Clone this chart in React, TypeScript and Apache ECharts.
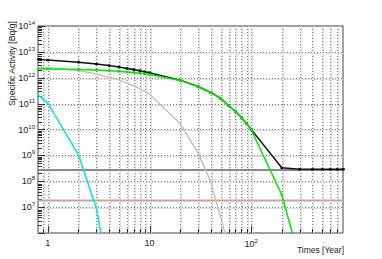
import React, { useEffect, useRef } from "react";
import * as echarts from "echarts";

const TIMES = [0.5, 1, 2, 3, 4, 5, 6, 7, 8, 9, 10, 20, 30, 40, 50, 60, 70, 80, 90, 100, 200, 300, 400, 500, 600, 700, 800, 900, 1000];

const TOTAL = [6.0e12, 4.8e12, 4.0e12, 3.4e12, 2.95e12, 2.6e12, 2.3e12, 2.07e12, 1.88e12, 1.71e12, 1.57e12, 8.1e11, 4.6e11, 2.7e11, 1.6e11, 8.5e10, 5.0e10, 2.9e10, 1.7e10, 1.01e10, 3.3e8, 2.9e8, 2.88e8, 2.88e8, 2.88e8, 2.88e8, 2.88e8, 2.88e8, 2.88e8];
const GREEN = [2.25e12, 2.2e12, 2.1e12, 1.99e12, 1.88e12, 1.78e12, 1.68e12, 1.59e12, 1.5e12, 1.42e12, 1.34e12, 7.9e11, 4.6e11, 2.7e11, 1.6e11, 8.5e10, 5.0e10, 2.9e10, 1.7e10, 9.8e9, 3.0e7, 9e4];
const BEIGE = [2.75e12, 2.45e12, 1.9e12, 1.4e12, 1.05e12, 8.3e11, 6.3e11, 4.8e11, 3.8e11, 2.9e11, 2.3e11, 1.7e10, 1.25e9, 9.5e7, 4e6, 3e5];
const CYAN = [1.0e12, 1.05e11, 1.05e9, 9e6, 2e4];
const FLAT_TIMES = [0.5, 1000];
const GRAY_CONST = [2.7e8, 2.7e8];
const BROWN_CONST = [1.8e7, 1.8e7];

const X_MIN = 0.8;
const X_MAX = 800;
const Y_MIN = 1e6;
const Y_MAX = 1e14;
const X_TICK_LABELS = [1, 10, 100];
const Y_TICK_LABELS = [1e7, 1e8, 1e9, 1e10, 1e11, 1e12, 1e13, 1e14];
const X_MINOR = [0.9, 1, 2, 3, 4, 5, 6, 7, 8, 9, 10, 20, 30, 40, 50, 60, 70, 80, 90, 100, 200, 300, 400, 500, 600, 700];
const Y_DECADES = [1e6, 1e7, 1e8, 1e9, 1e10, 1e11, 1e12, 1e13, 1e14];

const FONT = "'Liberation Sans', Arial, Helvetica, sans-serif";

function pairs(xs: number[], ys: number[]) {
  return ys.map((y, i) => [xs[i], y]);
}

function isTick(v: number, list: number[]) {
  return list.some((t) => Math.abs(Math.log10(v) - Math.log10(t)) < 1e-6);
}

export default function App() {
  const ref = useRef<HTMLDivElement>(null);
  useEffect(() => {
    if (!ref.current) return;
    const chart = echarts.init(ref.current, undefined, { renderer: "svg" });
    const rich = {
      b: { fontSize: 9, fontFamily: FONT, color: "#222" },
      s: { fontSize: 6, fontFamily: FONT, color: "#222", padding: [0, 0, 6, 0] },
    };
    const crisp = (v: number) => Math.round(v) + 0.5;
    const gridSeries: any = {
      type: "custom",
      silent: true,
      z: 1,
      clip: false,
      data: [[1, 1e10]],
      renderItem: (params: any, api: any) => {
        const children: any[] = [];
        const bl = api.coord([X_MIN, Y_MIN]);
        const tr = api.coord([X_MAX, Y_MAX]);
        const x0 = bl[0], y0 = bl[1], x1 = tr[0], y1 = tr[1];
        for (const t of X_MINOR) {
          const x = crisp(api.coord([t, Y_MIN])[0]);
          children.push({ type: "line", shape: { x1: x + 1, y1: y1, x2: x + 1, y2: y0 }, style: { stroke: "#e0e0e0", lineWidth: 1 } });
          children.push({ type: "line", shape: { x1: x, y1: y1, x2: x, y2: y0 }, style: { stroke: "#808080", lineWidth: 1, lineDash: [1, 2] } });
          const major = isTick(t, X_TICK_LABELS);
          children.push({ type: "line", shape: { x1: x, y1: y0, x2: x, y2: y0 - (major ? 7 : 4) }, style: { stroke: "#333", lineWidth: 1 } });
        }
        for (let d = 0; d < Y_DECADES.length; d++) {
          const dec = Y_DECADES[d];
          const y = crisp(api.coord([X_MIN, dec])[1]);
          if (d > 0 && d < Y_DECADES.length - 1) {
            children.push({ type: "line", shape: { x1: x0, y1: y + 1, x2: x1, y2: y + 1 }, style: { stroke: "#e0e0e0", lineWidth: 1 } });
            children.push({ type: "line", shape: { x1: x0, y1: y, x2: x1, y2: y }, style: { stroke: "#808080", lineWidth: 1, lineDash: [1, 2] } });
          }
          children.push({ type: "line", shape: { x1: x0, y1: y, x2: x0 + 7, y2: y }, style: { stroke: "#333", lineWidth: 1 } });
          if (d < Y_DECADES.length - 1) {
            for (let m = 2; m <= 9; m++) {
              const ym = crisp(api.coord([X_MIN, dec * m])[1]);
              children.push({ type: "line", shape: { x1: x0, y1: ym, x2: x0 + 4, y2: ym }, style: { stroke: "#333", lineWidth: 1 } });
            }
          }
        }
        return { type: "group", children };
      },
    };
    const line = (name: string, xs: number[], ys: number[], color: string, width: number, marker: boolean, z: number) => ({
      name,
      type: "line",
      data: pairs(xs, ys),
      z,
      clip: true,
      showSymbol: marker,
      symbol: marker ? "rect" : "none",
      symbolSize: 2.5,
      itemStyle: { color },
      lineStyle: { color, width },
      silent: true,
    });
    chart.setOption({
      animation: false,
      backgroundColor: "#ffffff",
      grid: { left: 38, top: 26, width: 305, height: 207, show: true, borderColor: "#444", borderWidth: 1, backgroundColor: "transparent" },
      xAxis: {
        type: "log",
        logBase: 10,
        min: X_MIN,
        max: X_MAX,
        axisLine: { show: false },
        axisTick: { show: false },
        splitLine: { show: false },
        minorTick: { show: false },
        axisLabel: {
          margin: 5,
          formatter: (v: number) => {
            if (!isTick(v, X_TICK_LABELS)) return "";
            const e = Math.round(Math.log10(v));
            if (e === 0) return "{b|1}";
            if (e === 1) return "{b|10}";
            return `{b|10}{s|${e}}`;
          },
          rich,
        },
      },
      yAxis: {
        type: "log",
        logBase: 10,
        min: Y_MIN,
        max: Y_MAX,
        axisLine: { show: false },
        axisTick: { show: false },
        splitLine: { show: false },
        axisLabel: {
          margin: 3,
          formatter: (v: number) => {
            if (!isTick(v, Y_TICK_LABELS)) return "";
            const e = Math.round(Math.log10(v));
            return `{b|10}{s|${e}}`;
          },
          rich,
        },
      },
      graphic: [
        {
          type: "text",
          x: 12,
          y: 21,
          rotation: Math.PI / 2,
          style: { text: "Specific Activity [Bq/g]", font: `8.7px ${FONT}`, fill: "#222", align: "right", verticalAlign: "middle" },
        },
        {
          type: "text",
          x: 344,
          y: 250,
          style: { text: "Times [Year]", font: `8.5px ${FONT}`, fill: "#222", align: "right", verticalAlign: "middle" },
        },
      ],
      series: [
        gridSeries,
        line("const1", FLAT_TIMES, GRAY_CONST, "#8a8a8a", 2, false, 2),
        line("const2", FLAT_TIMES, BROWN_CONST, "#c4a898", 2, false, 2),
        line("total", TIMES, TOTAL, "#111111", 1.5, true, 3),
        line("beige", TIMES, BEIGE, "#c8c4b2", 1.5, false, 4),
        line("cyan", TIMES, CYAN, "#00e8ee", 1.5, false, 4),
        line("green", TIMES, GREEN, "#00e800", 1.5, true, 5),
      ],
    });
    return () => chart.dispose();
  }, []);
  return <div ref={ref} style={{ position: "fixed", left: 0, top: 0, width: 382, height: 259 }} />;
}
